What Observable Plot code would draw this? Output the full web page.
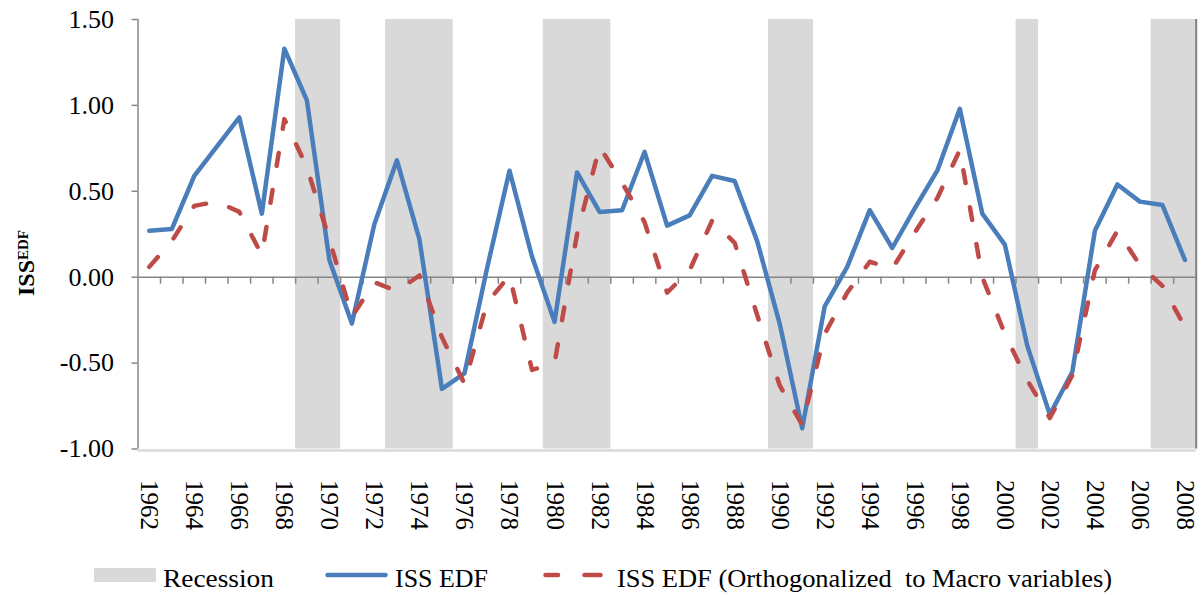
<!DOCTYPE html>
<html>
<head>
<meta charset="utf-8">
<script src="https://cdn.jsdelivr.net/npm/d3@7"></script>
<script src="https://cdn.jsdelivr.net/npm/@observablehq/plot@0.6"></script>
<style>
  body { margin: 0; background: #fff; }
  #chart { width: 1201px; }
  #chart svg { display: block; }
</style>
</head>
<body>
<div id="chart"></div>
<script>
// ---------- data ----------
const years = [1962,1963,1964,1965,1966,1967,1968,1969,1970,1971,1972,1973,1974,1975,1976,1977,1978,1979,1980,1981,1982,1983,1984,1985,1986,1987,1988,1989,1990,1991,1992,1993,1994,1995,1996,1997,1998,1999,2000,2001,2002,2003,2004,2005,2006,2007,2008];
const issEdf = [0.27,0.28,0.59,0.76,0.93,0.37,1.33,1.03,0.10,-0.27,0.31,0.68,0.22,-0.65,-0.56,0.05,0.62,0.12,-0.26,0.61,0.38,0.39,0.73,0.30,0.36,0.59,0.56,0.21,-0.27,-0.88,-0.17,0.06,0.39,0.17,0.40,0.62,0.98,0.37,0.19,-0.40,-0.80,-0.55,0.27,0.54,0.44,0.42,0.10];
const issEdfOrth = [0.06,0.21,0.415,0.44,0.38,0.13,0.92,0.64,0.22,-0.23,-0.03,-0.08,0.01,-0.35,-0.62,-0.15,0.01,-0.54,-0.50,0.25,0.76,0.55,0.32,-0.09,0.04,0.33,0.20,-0.22,-0.63,-0.86,-0.33,-0.09,0.09,0.05,0.26,0.46,0.74,0.00,-0.33,-0.60,-0.82,-0.57,0.04,0.27,0.07,-0.05,-0.29];
const recessionYears = [1969,1970,1973,1974,1975,1980,1981,1982,1990,1991,2001,2007,2008];
const xTickLabels = [1962,1964,1966,1968,1970,1972,1974,1976,1978,1980,1982,1984,1986,1988,1990,1992,1994,1996,1998,2000,2002,2004,2006,2008];
const yTicks = [-1.0,-0.5,0.0,0.5,1.0,1.5];
const seriesNames = ["Recession", "ISS EDF", "ISS EDF (Orthogonalized  to Macro variables)"];

// ---------- derived tables ----------
const blue = years.map((y, i) => ({year: y, v: issEdf[i]}));
const red = years.map((y, i) => ({year: y, v: issEdfOrth[i]}));
const spans = [];
for (const y of recessionYears) {
  const last = spans[spans.length - 1];
  if (last && last.end === y - 1) last.end = y; else spans.push({start: y, end: y});
}
const boundaries = years.slice(0, -1).map(y => y + 0.5);

const FONT = "'Liberation Serif', 'Times New Roman', serif";
const BLUE = "#4a7ebb", RED = "#be4b48", GREY = "#d9d9d9", AXIS = "#868686";
const yMin = yTicks[0], yMax = yTicks[yTicks.length - 1];

const chart = Plot.plot({
  width: 1201,
  height: 550,
  marginLeft: 137.5,
  marginRight: 5.3,
  marginTop: 19,
  marginBottom: 101.5,
  style: {fontFamily: FONT, background: "#fff", color: "#000", overflow: "visible"},
  x: {type: "linear", domain: [years[0] - 0.5, years[years.length - 1] + 0.5], label: null},
  y: {domain: [yMin, yMax], label: null},
  marks: [
    Plot.rect(spans, {x1: d => d.start - 0.5, x2: d => d.end + 0.5, y1: yMin, y2: yMax, fill: GREY}),
    Plot.ruleY([yMin], {stroke: GREY, strokeWidth: 2.5, dy: 1.5}),
    Plot.ruleX([years[years.length - 1] + 0.5], {stroke: "#7f7f7f", strokeWidth: 2}),
    Plot.ruleX([years[0] - 0.5], {stroke: AXIS, strokeWidth: 1.5}),
    Plot.ruleY([0], {stroke: AXIS, strokeWidth: 1.5}),
    Plot.ruleX(boundaries, {x: d => d, y1: 0, y2: 0, insetBottom: -7, stroke: AXIS, strokeWidth: 1.5}),
    Plot.axisY(yTicks, {anchor: "left", label: null, tickSize: 6, tickPadding: 18, tickFormat: d => d.toFixed(2), fontSize: 26, stroke: AXIS, strokeWidth: 1.5, fill: "#000"}),
    Plot.axisX(xTickLabels, {anchor: "bottom", label: null, tickSize: 0, tickPadding: 31, tickRotate: 90, fontSize: 25, tickFormat: d => String(d), fill: "#000"}),
    Plot.line(blue, {x: "year", y: "v", stroke: BLUE, strokeWidth: 4.5, strokeLinejoin: "round", strokeLinecap: "round"}),
    Plot.line(red, {x: "year", y: "v", stroke: RED, strokeWidth: 4.5, strokeLinejoin: "round", strokeLinecap: "round", strokeDasharray: "13,24.5"})
  ]
});

// y-axis title ISS^EDF
const svg = d3.select(chart);
const t = svg.append("text")
  .attr("transform", "translate(34,263) rotate(-90)")
  .attr("font-family", FONT)
  .attr("font-weight", "bold")
  .attr("fill", "#000");
t.append("tspan").attr("font-size", 24).text("ISS");
t.append("tspan").attr("font-size", 15).attr("dy", -6).text("EDF");

document.getElementById("chart").appendChild(chart);

// legend below the chart
const leg = d3.select("#chart").append("svg")
  .attr("width", 1201).attr("height", 45)
  .style("display", "block")
  .style("font-family", FONT);
leg.append("rect").attr("x", 94).attr("y", 18).attr("width", 62).attr("height", 14).attr("fill", GREY);
leg.append("text").attr("x", 163).attr("y", 36.5).attr("font-size", 26)
  .attr("textLength", 111).attr("lengthAdjust", "spacingAndGlyphs").text(seriesNames[0]);
leg.append("line").attr("x1", 327.5).attr("x2", 385.5).attr("y1", 25).attr("y2", 25)
  .attr("stroke", BLUE).attr("stroke-width", 4.5).attr("stroke-linecap", "round");
leg.append("text").attr("x", 395).attr("y", 36.5).attr("font-size", 26)
  .attr("textLength", 93).attr("lengthAdjust", "spacingAndGlyphs").text(seriesNames[1]);
for (const [a, b] of [[545.5, 558], [584.5, 600.5]]) {
  leg.append("line").attr("x1", a).attr("x2", b).attr("y1", 25).attr("y2", 25)
    .attr("stroke", RED).attr("stroke-width", 4.5).attr("stroke-linecap", "round");
}
leg.append("text").attr("x", 617).attr("y", 36.5).attr("font-size", 26)
  .style("white-space", "pre")
  .attr("textLength", 495).attr("lengthAdjust", "spacingAndGlyphs").text(seriesNames[2]);
</script>
</body>
</html>
